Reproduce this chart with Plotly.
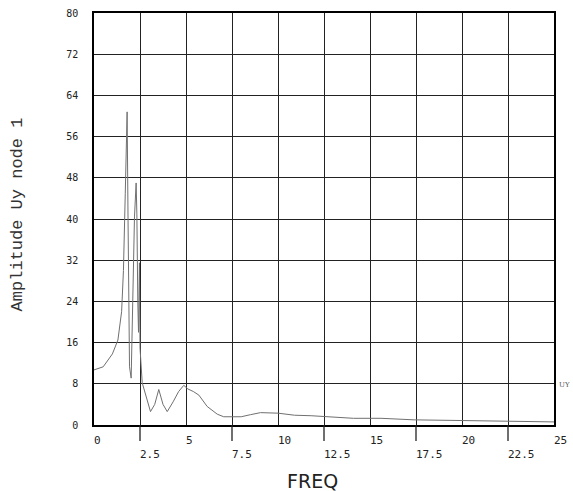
import plotly.graph_objects as go

freq = [0, 0.5, 1.0, 1.3, 1.5, 1.6, 1.7, 1.77, 1.80, 1.85, 1.93, 2.02, 2.11, 2.2, 2.29,
        2.33, 2.38, 2.42, 2.47, 2.50, 2.62, 2.88, 3.07, 3.3, 3.52, 3.75, 3.98, 4.3, 4.6,
        4.88, 5.1, 5.4, 5.7, 6.15, 6.7, 7.05, 7.5, 8.0, 8.5, 9.05, 10.0, 10.9, 11.8,
        12.7, 14.1, 15.6, 16.3, 17.4, 19.4, 21.0, 22.5, 24.1, 25.0]
amp = [10.7, 11.3, 13.8, 16.5, 22.0, 30.0, 45.0, 56.0, 60.8, 40.0, 11.3, 9.1, 24.3, 40.4, 47.0,
       41.0, 24.0, 18.0, 31.5, 15.0, 8.2, 4.9, 2.6, 4.0, 6.9, 4.0, 2.6, 4.5, 6.5,
       7.7, 7.0, 6.5, 5.8, 3.6, 2.1, 1.6, 1.6, 1.6, 2.0, 2.4, 2.3, 1.9, 1.8,
       1.6, 1.3, 1.3, 1.2, 1.0, 0.9, 0.85, 0.8, 0.65, 0.6]

major_x = [0, 5, 10, 15, 20, 25]
major_labels = ["0", "5", "10", "15", "20", "25"]
minor_x = [2.5, 7.5, 12.5, 17.5, 22.5]
minor_labels = ["2.5", "7.5", "12.5", "17.5", "22.5"]
y_ticks = [0, 8, 16, 24, 32, 40, 48, 56, 64, 72, 80]

fig = go.Figure()
fig.add_trace(go.Scatter(x=freq, y=amp, mode="lines",
                         line=dict(color="#707070", width=1), showlegend=False))

# long tick marks below the axis at the half steps
shapes = [dict(type="line", xref="x", yref="paper", x0=v, x1=v, y0=0, y1=-0.039,
               line=dict(color="#222", width=1.3)) for v in minor_x]

tickfont = dict(family="DejaVu Sans Mono", size=11, color="#222")

# x tick labels start at their tick (left aligned), in two staggered rows
annotations = []
for v, lab in zip(major_x, major_labels):
    annotations.append(dict(text=lab, x=v, y=-0.0376, xref="x", yref="paper",
                            xanchor="left", yanchor="middle", showarrow=False,
                            font=tickfont, xshift=-2))
for v, lab in zip(minor_x, minor_labels):
    annotations.append(dict(text=lab, x=v, y=-0.0728, xref="x", yref="paper",
                            xanchor="left", yanchor="middle", showarrow=False,
                            font=tickfont, xshift=-2))

annotations += [
    dict(text="Amplitude Uy node 1", textangle=-90, x=-0.1662, y=0.51,
         xref="paper", yref="paper", xanchor="center", yanchor="middle", showarrow=False,
         font=dict(family="Liberation Mono", size=17, color="#333")),
    dict(text="FREQ", x=0.476, y=-0.137, xref="paper", yref="paper",
         xanchor="center", yanchor="middle",
         showarrow=False, font=dict(family="DejaVu Sans", size=19, color="#222")),
    dict(text="UY", x=1.0076, y=0.097, xref="paper", yref="paper",
         xanchor="left", yanchor="middle",
         showarrow=False, font=dict(family="DejaVu Serif", size=7, color="#555")),
]

fig.update_layout(
    width=573, height=491,
    margin=dict(l=93.5, r=19.3, t=13.3, b=65.7, autoexpand=False),
    paper_bgcolor="white", plot_bgcolor="white",
    xaxis=dict(range=[0, 25], tickvals=major_x + minor_x, showticklabels=False,
               showgrid=True, gridcolor="#222", gridwidth=1.3,
               showline=True, linecolor="#000", linewidth=1.5, mirror=True,
               ticks="", zeroline=False, automargin=False),
    yaxis=dict(range=[0, 80], tickvals=y_ticks, ticktext=[str(v) for v in y_ticks],
               showgrid=True, gridcolor="#222", gridwidth=1.3,
               showline=True, linecolor="#000", linewidth=1.5, mirror=True,
               ticks="", ticklabelstandoff=12, tickfont=dict(family="DejaVu Sans Mono",
                                                             size=10, color="#222"),
               zeroline=False, automargin=False),
    shapes=shapes,
    annotations=annotations,
)
fig.write_html("out.html", config={"displayModeBar": False},
               post_script="document.body.style.margin='0px';")
